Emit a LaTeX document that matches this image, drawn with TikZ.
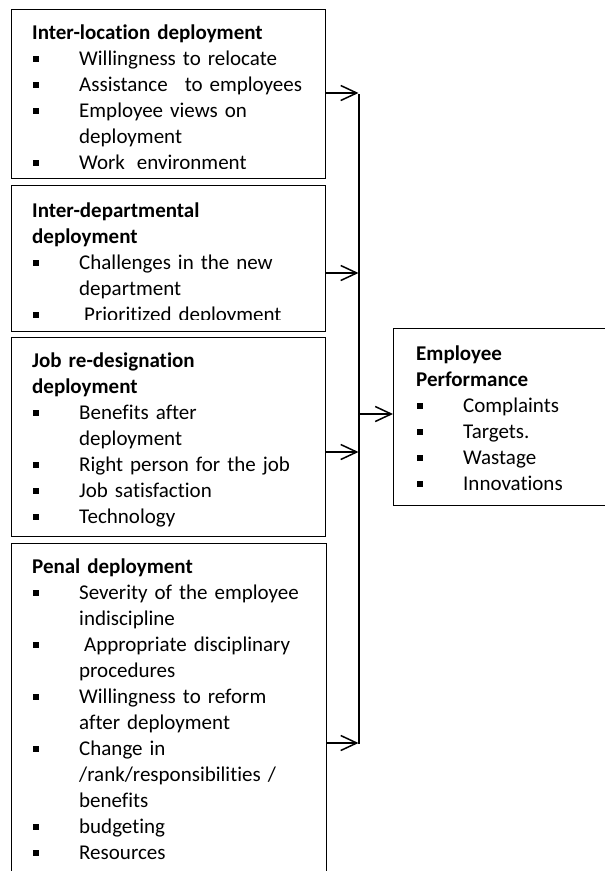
\documentclass[tikz,border=0pt]{standalone}
\usepackage{fontspec}
\setmainfont{Carlito}[Ligatures=NoCommon]
\usetikzlibrary{arrows.meta}

\setlength{\parindent}{0pt}
% square bullet and the indent of a wrapped line
\newcommand{\bul}{\makebox[47pt][l]{\hspace{1pt}\rule[3.3pt]{6pt}{6pt}}}
\newcommand{\cont}{\hspace*{47pt}}

\begin{document}
\begin{tikzpicture}[x=1pt,y=1pt,
  box/.style={draw, line width=1.1pt, anchor=north west, inner sep=0pt},
  txt/.style={anchor=base west, inner sep=0pt, text width=300pt, align=left,
              font=\fontsize{21}{26}\selectfont},
  feed/.style={-{Straight Barb[length=16pt,width=15pt]}, line width=1.5pt}]

\useasboundingbox[fill=white] (0,0) rectangle (605,-871);

% A. Frames of the four deployment boxes and the performance box
\node[box, minimum width=314pt, minimum height=169pt] (loc) at (11,-9) {};
\node[box, minimum width=314pt, minimum height=146pt] (dept) at (11,-185) {};
\node[box, minimum width=314pt, minimum height=199pt] (job) at (11,-337) {};
\node[box, minimum width=315pt, minimum height=340pt] (penal) at (11,-543) {};
\node[box, minimum width=215pt, minimum height=177pt] (perf) at (393,-328) {};

% B. Box texts, the first two are cut off at the bottom
\begin{scope}
\clip (11,-9) rectangle (325,-168.5);
\node[txt] (locTxt) at (32,-39.5) {\textbf{Inter-location deployment}\\
  \bul Willingness to relocate\\
  \bul Assistance\hspace{10pt} to employees\\
  \bul Employee views on\\
  \cont deployment\\
  \bul Work\hspace{5pt} environment};
\end{scope}

\begin{scope}
\clip (11,-185) rectangle (325,-319);
\node[txt] (deptTxt) at (32,-217) {\textbf{Inter-departmental}\\
  \textbf{deployment}\\
  \bul Challenges in the new\\
  \cont department\\
  \bul \hspace{5pt}Prioritized deployment};
\end{scope}

\node[txt] (jobTxt) at (32,-367) {\textbf{Job re-designation}\\
  \textbf{deployment}\\
  \bul Benefits after\\
  \cont deployment\\
  \bul Right person for the job\\
  \bul Job satisfaction\\
  \bul Technology};

\node[txt] (penalTxt) at (32,-573) {\textbf{Penal deployment}\\
  \bul Severity of the employee\\
  \cont indiscipline\\
  \bul \hspace{5pt}Appropriate disciplinary\\
  \cont procedures\\
  \bul Willingness to reform\\
  \cont after deployment\\
  \bul Change in\\
  \cont /rank/responsibilities /\\
  \cont benefits\\
  \bul budgeting\\
  \bul Resources};

\node[txt, text width=190pt] (perfTxt) at (416,-360) {\textbf{Employee}\\
  \textbf{Performance}\\
  \bul Complaints\\
  \bul Targets.\\
  \bul Wastage\\
  \bul Innovations};

% C. Collecting line with the arrows coming in
\coordinate (t1) at (358.5,-93);
\coordinate (t2) at (358.5,-273);
\coordinate (t3) at (358.5,-452);
\coordinate (t4) at (358.5,-743);
\coordinate (tp) at (358.5,-414);
\draw[line width=2pt] ([yshift=-1pt]t1) -- ([yshift=-1pt]t4);
\draw[feed] (loc.east |- t1) -- (t1);
\draw[feed] (dept.east |- t2) -- (t2);
\draw[feed] (job.east |- t3) -- (t3);
\draw[feed] (penal.east |- t4) -- (t4);

% D. Arrow into the performance box
\draw[feed] (tp) -- (perf.west |- tp);

\end{tikzpicture}
\end{document}
